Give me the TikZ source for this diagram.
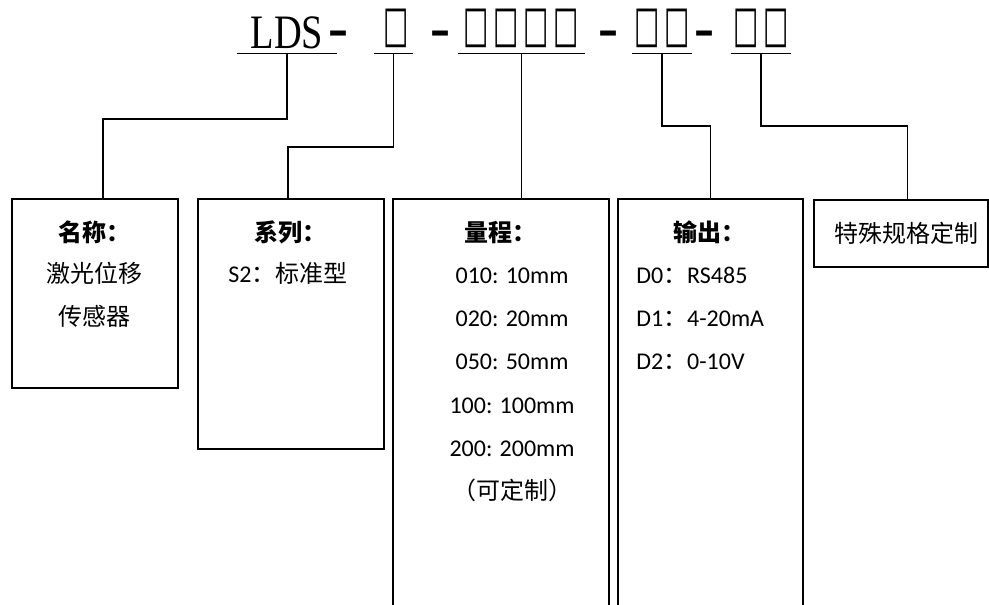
\documentclass[tikz,border=0pt]{standalone}
\usepackage{fontspec}
\setmainfont{Carlito}
\newfontfamily\cjk{Noto Sans CJK SC}
\newfontfamily\titlefont{Liberation Serif}
\newfontfamily\symfont{DejaVu Sans}
\newcommand\tofu{\makebox[22.5pt]{\raisebox{5pt}{\resizebox*{19pt}{29pt}{\symfont □}}}}
\newcommand\sepdash{{\fontsize{30}{32}\symfont\bfseries –}}

\begin{document}
\begin{tikzpicture}[
    x=0.75pt, y=-0.75pt,
    seg/.style={inner sep=0pt, anchor=base, text height=24pt, text depth=3.75pt, font=\fontsize{36}{40}\titlefont},
    uline/.style={line width=1.1pt},
    cell/.style={rectangle, draw, line width=1.3pt, anchor=north west, inner sep=0pt},
    head/.style={anchor=base, inner sep=0pt, font=\fontsize{18}{20}\cjk\bfseries},
    item/.style={anchor=base, inner sep=0pt, font=\fontsize{18}{20}\selectfont},
    link/.style={draw, line width=1.3pt}
]
    \useasboundingbox (0,0) rectangle (989,604);

    % model code
    \node[seg, minimum width=75pt] (lds) at (287,48) {\scalebox{0.8}[1]{LDS}\hspace{6pt}};
    \node[seg] (dasha) at (338,44) {\sepdash};
    \node[seg, minimum width=29.25pt] (sercode) at (393.5,48) {\hspace{4.5pt}\tofu};
    \node[seg] (dashb) at (440,44) {\sepdash};
    \node[seg, minimum width=95.25pt] (rngcode) at (521.5,48) {\tofu\tofu\tofu\tofu};
    \node[seg] (dashc) at (608,44) {\sepdash};
    \node[seg, minimum width=45pt] (outcode) at (662,48) {\tofu\tofu};
    \node[seg] (dashd) at (704,44) {\sepdash};
    \node[seg, minimum width=45pt] (spccode) at (761,48) {\tofu\tofu};

    \draw[uline] (lds.south west) -- (lds.south east);
    \draw[uline] (sercode.south west) -- (sercode.south east);
    \draw[uline] (rngcode.south west) -- (rngcode.south east);
    \draw[uline] (outcode.south west) -- (outcode.south east);
    \draw[uline] (spccode.south west) -- (spccode.south east);

    % boxes
    \node[cell, minimum width=124.5pt, minimum height=141.75pt] (namebox) at (11,198) {};
    \node[cell, minimum width=139.5pt, minimum height=187.5pt] (serbox) at (197,198) {};
    \node[cell, minimum width=162pt, minimum height=315pt] (rngbox) at (392,198) {};
    \node[cell, minimum width=138.75pt, minimum height=315pt] (outbox) at (617,198) {};
    \node[cell, minimum width=130.5pt, minimum height=50.25pt] (spcbox) at (813,199) {};

    \node[head] (namehd) at (94,241) {名称：};
    \node[item] (namea) at (94,282) {\cjk 激光位移};
    \node[item] (nameb) at (94,325) {\cjk 传感器};

    \node[head] (serhd) at (290,241) {系列：};
    \node[item] (sera) at (288,282) {S2{\cjk ：标准型}};

    \node[head] (rnghd) at (500,241) {量程：};
    \node[item] (rnga) at (512,283) {010: 10mm};
    \node[item] (rngb) at (512,326) {020: 20mm};
    \node[item] (rngc) at (512,369) {050: 50mm};
    \node[item] (rngd) at (512,413) {100: 100mm};
    \node[item] (rnge) at (512,456) {200: 200mm};
    \node[item] (rngf) at (512,499) {\cjk （可定制）};

    \node[head] (outhd) at (709.5,241) {输出：};
    \node[item, anchor=base west] (outa) at (636,283) {D0{\cjk ：}RS485};
    \node[item, anchor=base west] (outb) at (636,326) {D1{\cjk ：}4-20mA};
    \node[item, anchor=base west] (outc) at (636,369) {D2{\cjk ：}0-10V};

    \node[item] (spca) at (906,242) {\cjk 特殊规格定制};

    % connectors
    \draw[link] (lds.south) -- ++(0,66) -| ([xshift=6pt]namebox.north);
    \draw[link] (sercode.south) -- ++(0,94) -| ([xshift=-2.25pt]serbox.north);
    \draw[link] (rngcode.south) -- (rngcode.south |- rngbox.north);
    \draw[link] (outcode.south) -- ++(0,73) -| (outbox.north);
    \draw[link] (spccode.south) -- ++(0,73) -| ([xshift=5pt]spcbox.north);
\end{tikzpicture}
\end{document}
